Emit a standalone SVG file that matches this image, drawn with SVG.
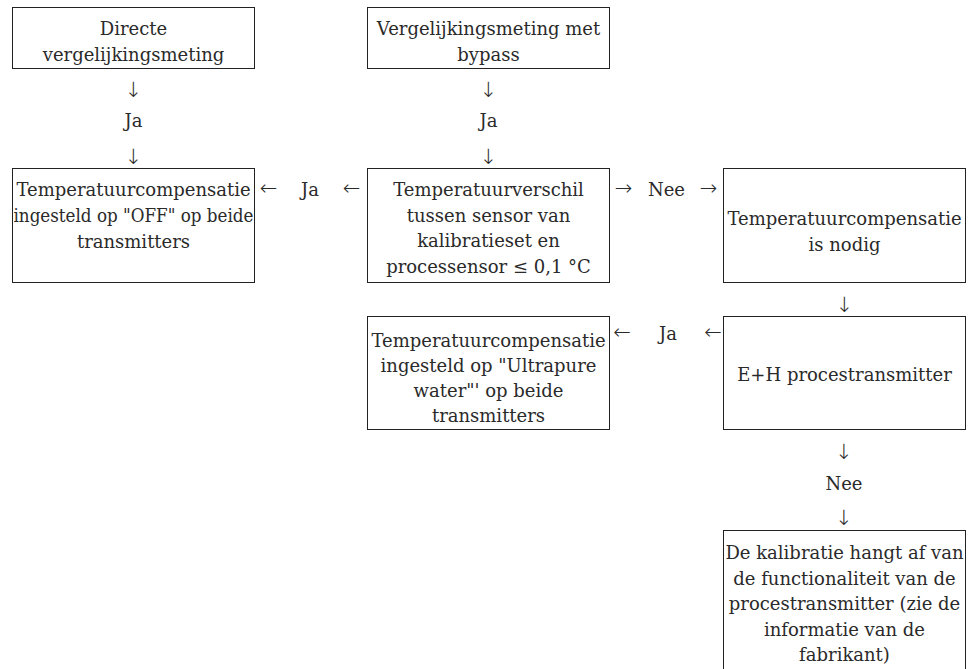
<svg xmlns="http://www.w3.org/2000/svg" width="979" height="669" viewBox="0 0 979 669">
<style>
.box{fill:#fff;stroke:#222;stroke-width:1}
.t{font-family:"DejaVu Serif","Liberation Serif",serif;font-size:18px;fill:#2a2a2a;text-anchor:middle}
.a{font-family:"DejaVu Sans","Liberation Sans",sans-serif;font-weight:200;font-size:21px;fill:#2a2a2a;text-anchor:middle;dominant-baseline:central}
</style>
<rect width="979" height="669" fill="#fff"/>
<g id="n-directe">
<rect class="box" x="12.5" y="7.5" width="242" height="61"/>
<text class="t" x="133.5" y="35">Directe</text>
<text class="t" x="133.5" y="60.5">vergelijkingsmeting</text>
</g>
<g id="n-bypass">
<rect class="box" x="367.5" y="7.5" width="242" height="61"/>
<text class="t" x="488.5" y="35">Vergelijkingsmeting met</text>
<text class="t" x="488.5" y="60.5">bypass</text>
</g>
<g id="n-off">
<rect class="box" x="12.5" y="168.5" width="242" height="114"/>
<text class="t" x="133.5" y="196">Temperatuurcompensatie</text>
<text class="t" x="133.5" y="222" textLength="240" lengthAdjust="spacingAndGlyphs">ingesteld op "OFF" op beide</text>
<text class="t" x="133.5" y="248">transmitters</text>
</g>
<g id="n-verschil">
<rect class="box" x="367.5" y="168.5" width="242" height="114"/>
<text class="t" x="488.5" y="196">Temperatuurverschil</text>
<text class="t" x="488.5" y="221.5">tussen sensor van</text>
<text class="t" x="488.5" y="247">kalibratieset en</text>
<text class="t" x="488.5" y="272.5">processensor ≤ 0,1 °C</text>
</g>
<g id="n-nodig">
<rect class="box" x="723.5" y="168.5" width="242" height="114"/>
<text class="t" x="844.5" y="225">Temperatuurcompensatie</text>
<text class="t" x="844.5" y="250.5">is nodig</text>
</g>
<g id="n-ultrapure">
<rect class="box" x="367.5" y="316.5" width="242" height="113"/>
<text class="t" x="488.5" y="346.5">Temperatuurcompensatie</text>
<text class="t" x="488.5" y="371.5">ingesteld op "Ultrapure</text>
<text class="t" x="488.5" y="396.5">water"' op beide</text>
<text class="t" x="488.5" y="421.5">transmitters</text>
</g>
<g id="n-eh">
<rect class="box" x="723.5" y="316.5" width="242" height="113"/>
<text class="t" x="844.5" y="381">E+H procestransmitter</text>
</g>
<g id="n-kalibratie">
<rect class="box" x="723.5" y="530.5" width="242" height="150"/>
<text class="t" x="844.5" y="559">De kalibratie hangt af van</text>
<text class="t" x="844.5" y="584.5">de functionaliteit van de</text>
<text class="t" x="844.5" y="610">procestransmitter (zie de</text>
<text class="t" x="844.5" y="635.5">informatie van de</text>
<text class="t" x="844.5" y="661">fabrikant)</text>
</g>
<g id="connectors">
<text class="a" x="133.5" y="90">↓</text>
<text class="t" x="133.5" y="127">Ja</text>
<text class="a" x="133.5" y="156.5">↓</text>
<text class="a" x="488.5" y="90">↓</text>
<text class="t" x="488.5" y="127">Ja</text>
<text class="a" x="488.5" y="156.5">↓</text>
<text class="a" x="268.5" y="188">←</text>
<text class="t" x="310" y="196">Ja</text>
<text class="a" x="351.5" y="188">←</text>
<text class="a" x="623.5" y="188">→</text>
<text class="t" x="666.5" y="196">Nee</text>
<text class="a" x="708.5" y="188">→</text>
<text class="a" x="844.5" y="305">↓</text>
<text class="a" x="622" y="332">←</text>
<text class="t" x="668" y="340">Ja</text>
<text class="a" x="713" y="332">←</text>
<text class="a" x="844" y="451.5">↓</text>
<text class="t" x="844" y="490">Nee</text>
<text class="a" x="844" y="518">↓</text>
</g>
</svg>
